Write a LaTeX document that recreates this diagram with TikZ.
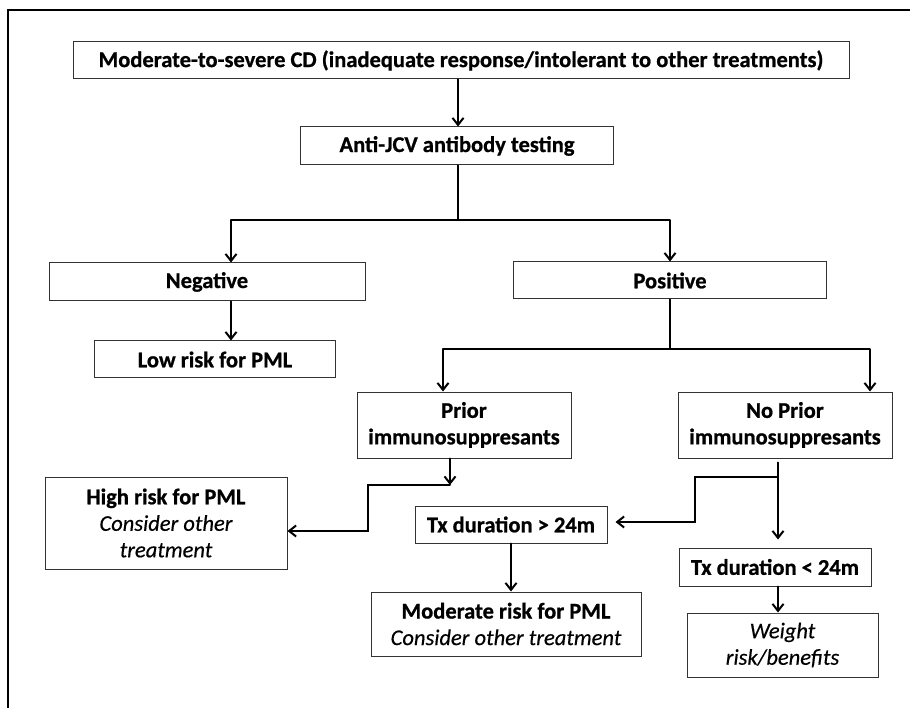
\documentclass[tikz,border=0pt]{standalone}
\usepackage{fontspec}
\setmainfont{Carlito}[BoldFeatures={FakeBold=0.8},ItalicFeatures={FakeBold=0.4}]
\usepackage{tikz}
\usetikzlibrary{arrows.meta}
\tikzstyle{box}=[draw=black!80,line width=1pt,rectangle,inner sep=2pt,align=center,font=\fontsize{22.5}{26.5}\selectfont\bfseries]
\tikzstyle{link}=[line width=2pt,line cap=round]
\tikzstyle{bar}=[line width=2.6pt]

\begin{document}
\begin{tikzpicture}[x=1pt,y=-1pt,>={Straight Barb[length=7pt,width=11pt]}]
        \useasboundingbox (0,0) rectangle (910,708);
        \draw[line width=1.3pt] (8,708) -- (8,10) -- (910,10);
        \node at (461,60.5) [box,minimum width=776pt,minimum height=37pt] (cd) {Moderate-to-severe CD (inadequate response/intolerant to other treatments)};
        \node at (457,146) [box,minimum width=313pt,minimum height=38pt] (anti) {Anti-JCV antibody testing};
        \node at (207,282) [box,minimum width=316pt,minimum height=38pt] (neg) {Negative};
        \node at (670,280.5) [box,minimum width=313pt,minimum height=37pt] (pos) {Positive};
        \node at (215,359.5) [box,minimum width=241pt,minimum height=37pt] (low) {Low risk for PML};
        \node at (464,425) [box,minimum width=214pt,minimum height=66pt] (prior) {Prior\\immunosuppresants};
        \node at (785,425) [box,minimum width=214pt,minimum height=66pt] (noprior) {No Prior\\immunosuppresants};
        \node at (166,523) [box,minimum width=242pt,minimum height=92pt] (high) {High risk for PML\\\mdseries\itshape Consider other\\\mdseries\itshape treatment};
        \node at (511,524.5) [box,minimum width=192pt,minimum height=37pt] (txgt) {Tx duration > 24m};
        \node at (775,567) [box,minimum width=192pt,minimum height=38pt] (txlt) {Tx duration < 24m};
        \node at (506,624) [box,minimum width=270pt,minimum height=64pt] (mod) {Moderate risk for PML\\\mdseries\itshape Consider other treatment};
        \node at (782.5,645) [box,minimum width=191pt,minimum height=64pt] (weight) {\mdseries\itshape Weight\\\mdseries\itshape risk/benefits};
        % junction points
        \coordinate (s1) at (458,220);
        \coordinate (sl1) at (231,220);
        \coordinate (sr1) at (670,220);
        \coordinate (s2) at (670,349);
        \coordinate (sl2) at (443,349);
        \coordinate (sr2) at (870,349);
        \coordinate (j1) at (450,485);
        \coordinate (j2) at (368,485);
        \coordinate (k1) at (368,531);
        \coordinate (j3) at (778,477);
        \coordinate (j4) at (695,477);
        \coordinate (k2) at (695,522);
        \draw [link,->] (cd.south -| s1) to (anti.north -| s1);
        \draw [link] (anti.south -| s1) to (s1);
        \draw [bar] (sl1) -- (sr1);
        \draw [link,->] (sl1) to (sl1 |- neg.north);
        \draw [link,->] (sr1) to (pos.north);
        \draw [link,->] (sl1 |- neg.south) to (sl1 |- low.north);
        \draw [link] (pos.south) to (s2);
        \draw [bar] (sl2) -- (sr2);
        \draw [link,->] (sl2) to (sl2 |- prior.north);
        \draw [link,->] (sr2) to (sr2 |- noprior.north);
        \draw [link,->] (prior.south -| j1) to (j1);
        \draw [link,->] (j1) -- (j2) -- (k1) -- (high.east |- k1);
        \draw [link] ([yshift=-4pt]noprior.south -| j3) -- (j3);
        \draw [link,->,shorten >=8pt] (j3) -- (j4) -- (k2) -- (txgt.east |- k2);
        \draw [link,->,shorten >=8pt] (j3) to (txlt.north -| j3);
        \draw [link,->] (txgt.south) to (txgt.south |- mod.north);
        \draw [link,->] (txlt.south -| j3) to (weight.north -| j3);
      \end{tikzpicture}
\end{document}
